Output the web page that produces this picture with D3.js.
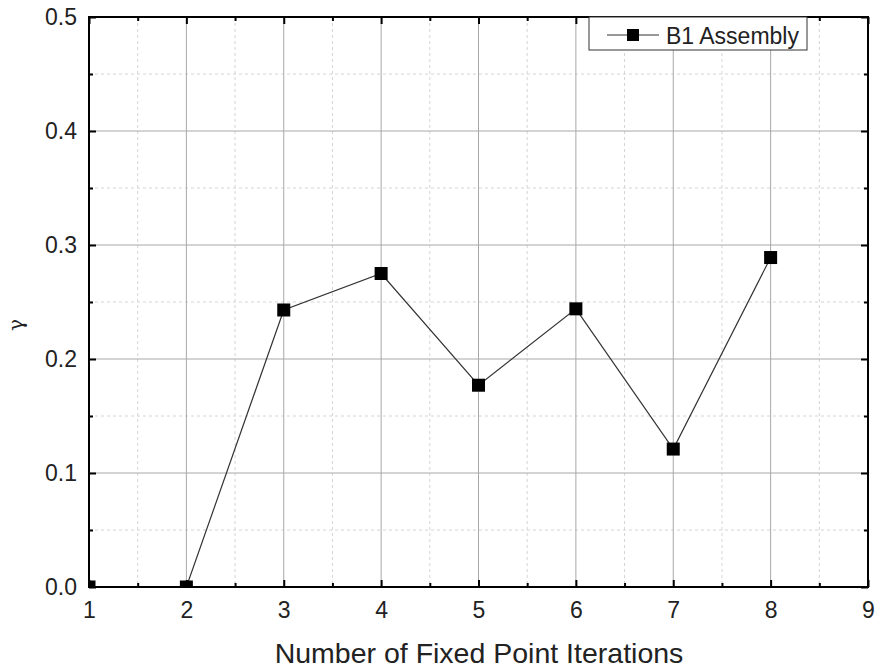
<!DOCTYPE html>
<html>
<head>
<meta charset="utf-8">
<script src="https://cdn.jsdelivr.net/npm/d3@7"></script>
<style>
  body { margin: 0; background: #fff; }
  text { font-family: "Liberation Sans", Arial, sans-serif; fill: #222; }
</style>
</head>
<body>
<svg class="canvas"></svg>
<script>
// data
let iterations = [1, 2, 3, 4, 5, 6, 7, 8];
let gamma = [0.0, 0.0, 0.243, 0.275, 0.177, 0.244, 0.121, 0.289];
let seriesName = "B1 Assembly";
let xTicks = [1, 2, 3, 4, 5, 6, 7, 8, 9];
let yTicks = [0.0, 0.1, 0.2, 0.3, 0.4, 0.5];

let width = 875, height = 669;
let m = {left: 89, right: 868, top: 17, bottom: 587};

let svg = d3.select(".canvas").attr("width", width).attr("height", height);

let x = d3.scaleLinear().domain([1, 9]).range([m.left, m.right]);
let y = d3.scaleLinear().domain([0, 0.5]).range([m.bottom, m.top]);

let xMinor = d3.range(1.5, 9, 1);
let yMinor = d3.range(0.05, 0.5, 0.1);

// minor grid (dashed)
svg.append("g").selectAll("line").data(xMinor).enter().append("line")
  .attr("x1", d => x(d)).attr("x2", d => x(d)).attr("y1", m.top).attr("y2", m.bottom)
  .attr("stroke", "#d4d4d4").attr("stroke-dasharray", "3,3");
svg.append("g").selectAll("line").data(yMinor).enter().append("line")
  .attr("y1", d => y(d)).attr("y2", d => y(d)).attr("x1", m.left).attr("x2", m.right)
  .attr("stroke", "#d4d4d4").attr("stroke-dasharray", "3,3");

// major grid
svg.append("g").selectAll("line").data(xTicks.slice(1, -1)).enter().append("line")
  .attr("x1", d => x(d)).attr("x2", d => x(d)).attr("y1", m.top).attr("y2", m.bottom)
  .attr("stroke", "#a8a8a8").attr("stroke-width", 1);
svg.append("g").selectAll("line").data(yTicks.slice(1, -1)).enter().append("line")
  .attr("y1", d => y(d)).attr("y2", d => y(d)).attr("x1", m.left).attr("x2", m.right)
  .attr("stroke", "#a8a8a8").attr("stroke-width", 1);

// axes with inward ticks
function axisG(axis, tx, ty) {
  let g = svg.append("g").attr("transform", `translate(${tx},${ty})`).call(axis);
  g.select(".domain").remove();
  g.selectAll("line").attr("stroke", "#000").attr("stroke-width", 2);
  g.selectAll("text").style("font-size", "23px").style("font-family", "Liberation Sans, Arial, sans-serif").attr("fill", "#222");
  return g;
}
axisG(d3.axisBottom(x).tickValues(xTicks).tickFormat(d3.format("d")).tickSizeInner(-7).tickPadding(15), 0, m.bottom);
axisG(d3.axisBottom(x).tickValues(xMinor).tickFormat("").tickSizeInner(-4), 0, m.bottom);
axisG(d3.axisTop(x).tickValues(xTicks).tickFormat("").tickSizeInner(-7), 0, m.top);
axisG(d3.axisTop(x).tickValues(xMinor).tickFormat("").tickSizeInner(-4), 0, m.top);
axisG(d3.axisLeft(y).tickValues(yTicks).tickFormat(d3.format(".1f")).tickSizeInner(-7).tickPadding(12), m.left, 0);
axisG(d3.axisLeft(y).tickValues(yMinor).tickFormat("").tickSizeInner(-4), m.left, 0);
axisG(d3.axisRight(y).tickValues(yTicks).tickFormat("").tickSizeInner(-7), m.right, 0);
axisG(d3.axisRight(y).tickValues(yMinor).tickFormat("").tickSizeInner(-4), m.right, 0);

// clip for series
svg.append("clipPath").attr("id", "plotclip").append("rect")
  .attr("x", m.left).attr("y", m.top).attr("width", m.right - m.left).attr("height", m.bottom - m.top);

let plot = svg.append("g").attr("clip-path", "url(#plotclip)");
let pts = iterations.map((d, i) => [d, gamma[i]]);
plot.append("path").datum(pts)
  .attr("d", d3.line().x(d => x(d[0])).y(d => y(d[1])))
  .attr("fill", "none").attr("stroke", "#333").attr("stroke-width", 1.2);
let ms = 13;
plot.selectAll(".pt").data(pts).enter().append("rect")
  .attr("class", "pt")
  .attr("x", d => x(d[0]) - ms / 2).attr("y", d => y(d[1]) - ms / 2)
  .attr("width", ms).attr("height", ms).attr("fill", "#000");

// frame
svg.append("rect").attr("x", m.left).attr("y", m.top)
  .attr("width", m.right - m.left).attr("height", m.bottom - m.top)
  .attr("fill", "none").attr("stroke", "#000").attr("stroke-width", 2);

// legend
let lg = svg.append("g").attr("transform", "translate(589,17)");
lg.append("rect").attr("width", 218).attr("height", 33)
  .attr("fill", "#fff").attr("stroke", "#333").attr("stroke-width", 1);
lg.append("line").attr("x1", 18).attr("x2", 70).attr("y1", 18).attr("y2", 18)
  .attr("stroke", "#333").attr("stroke-width", 1.2);
lg.append("rect").attr("x", 38).attr("y", 12).attr("width", 12).attr("height", 12).attr("fill", "#000");
lg.append("text").attr("x", 77).attr("y", 27).style("font-size", "23px").text(seriesName);

// axis titles
svg.append("text").attr("x", 479).attr("y", 663)
  .attr("text-anchor", "middle").style("font-size", "28.5px")
  .text("Number of Fixed Point Iterations");
svg.append("text").attr("transform", "translate(23,325) rotate(-90)")
  .attr("text-anchor", "middle").style("font-size", "20px")
  .style("font-family", "DejaVu Serif, serif").text("γ");
</script>
</body>
</html>
